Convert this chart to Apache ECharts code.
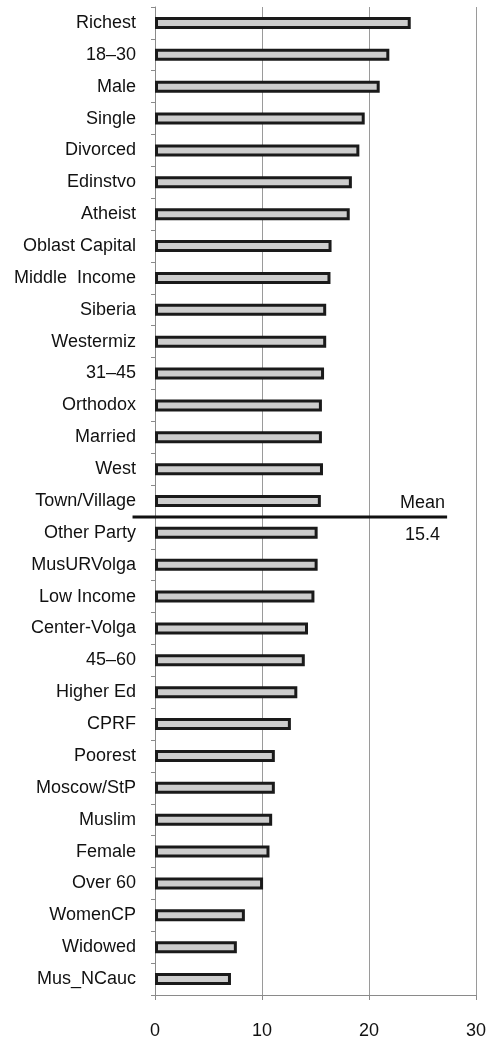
<!DOCTYPE html>
<html>
<head>
<meta charset="utf-8">
<script src="https://cdn.jsdelivr.net/npm/echarts@6/dist/echarts.min.js"></script>
<style>
html,body{margin:0;padding:0;background:#fff;}
#chart{width:489px;height:1042px;}
</style>
</head>
<body>
<div id="chart"></div>
<script>
const categories = ["Richest","18\u201330","Male","Single","Divorced","Edinstvo","Atheist","Oblast Capital","Middle  Income","Siberia","Westermiz","31\u201345","Orthodox","Married","West","Town/Village","Other Party","MusURVolga","Low Income","Center-Volga","45\u201360","Higher Ed","CPRF","Poorest","Moscow/StP","Muslim","Female","Over 60","WomenCP","Widowed","Mus_NCauc"];
const values = [23.9,21.9,21.0,19.6,19.1,18.4,18.2,16.5,16.4,16.0,16.0,15.8,15.6,15.6,15.7,15.5,15.2,15.2,14.9,14.3,14.0,13.3,12.7,11.2,11.2,10.95,10.7,10.1,8.4,7.65,7.1];
const xTickMin = 0, xTickMax = 30, xTickStep = 10;
const meanValue = 15.4;
const meanLabel = "Mean";
const meanAfter = "Town/Village", meanBefore = "Other Party";
const meanLineFrom = -2.1, meanLineTo = 27.3, meanLabelAt = 25;

const FONT = '"Liberation Sans", Arial, sans-serif';
const chart = echarts.init(document.getElementById('chart'), null, {renderer:'canvas'});
const option = {
  animation:false,
  backgroundColor:'#fff',
  grid:{left:155, right:9, top:7, bottom:47},
  xAxis:{
    type:'value', min:xTickMin, max:xTickMax, interval:xTickStep,
    axisLine:{show:true, lineStyle:{color:'#8a8a8a', width:1}},
    axisTick:{show:true, length:5, lineStyle:{color:'#8a8a8a'}},
    axisLabel:{fontSize:18, color:'#111', fontFamily:FONT, margin:27},
    splitLine:{show:true, lineStyle:{color:'#9a9a9a', width:1}}
  },
  yAxis:{
    type:'category', data:categories, inverse:true,
    axisLine:{show:true, lineStyle:{color:'#8a8a8a', width:1}},
    axisTick:{show:true, length:4, lineStyle:{color:'#8a8a8a'}},
    axisLabel:{fontSize:18, color:'#111', fontFamily:FONT, margin:19},
    splitLine:{show:false}
  },
  series:[{
    type:'bar', data:values, barWidth:12,
    itemStyle:{color:'#cdcdcd', borderColor:'#1a1a1a', borderWidth:3},
    z:3
  }]
};
chart.setOption(option);

const yA = chart.convertToPixel({yAxisIndex:0}, meanAfter);
const yB = chart.convertToPixel({yAxisIndex:0}, meanBefore);
const yM = (yA + yB) / 2;
const x1 = chart.convertToPixel({xAxisIndex:0}, meanLineFrom);
const x2 = chart.convertToPixel({xAxisIndex:0}, meanLineTo);
const xl = chart.convertToPixel({xAxisIndex:0}, meanLabelAt);
chart.setOption({
  graphic:[
    {type:'line', shape:{x1:x1, y1:yM, x2:x2, y2:yM}, style:{stroke:'#111', lineWidth:3}, z:10},
    {type:'text', x:xl, y:yM-14, style:{text:meanLabel, font:'18px '+FONT, fill:'#111', align:'center', verticalAlign:'middle'}, z:10},
    {type:'text', x:xl, y:yM+18, style:{text:meanValue.toFixed(1), font:'18px '+FONT, fill:'#111', align:'center', verticalAlign:'middle'}, z:10}
  ]
});
</script>
</body>
</html>
